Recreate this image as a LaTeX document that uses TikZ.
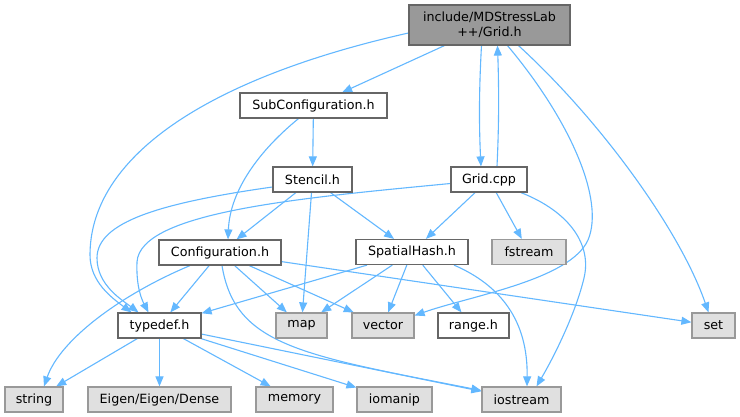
\documentclass[tikz,border=0pt]{standalone}
\usepackage{fontspec}
\setmainfont{DejaVu Sans}
\usetikzlibrary{arrows.meta,backgrounds,calc}
\definecolor{edgec}{HTML}{63B8FF}
\definecolor{bord}{HTML}{666666}
\definecolor{gbord}{HTML}{999999}
\definecolor{gfill}{HTML}{E0E0E0}
\definecolor{rfill}{HTML}{999999}
\begin{document}
\begin{tikzpicture}[x=1pt,y=-1pt,
 box/.style={rectangle, draw=bord, fill=white, line width=1.2pt, inner sep=0pt, minimum height=25pt, font=\fontsize{12.7}{15}\selectfont, text=black},
 sys/.style={box, draw=gbord, fill=gfill},
 root/.style={box, fill=rfill, minimum height=40pt, align=center},
 edge/.style={draw=edgec, line width=1.1pt, -{Triangle[length=10pt,width=8pt]}}]
\useasboundingbox (0,0) rectangle (740,417);

\node[root, minimum width=161pt] (gridh) at (489.5,25) {include/MDStressLab\\++/Grid.h};
\node[box, minimum width=147pt] (subconf) at (313.5,105.5) {SubConfiguration.h};
\node[box, minimum width=79pt] (stencil) at (312.5,179.5) {Stencil.h};
\node[box, minimum width=76pt] (gridcpp) at (489,179.5) {Grid.cpp};
\node[box, minimum width=122pt] (conf) at (220,252.5) {Configuration.h};
\node[box, minimum width=112pt] (spatial) at (412,252) {SpatialHash.h};
\node[sys, minimum width=74pt] (fstream) at (529,252) {fstream};
\node[box, minimum width=83pt] (typedef) at (159.5,325.5) {typedef.h};
\node[sys, minimum width=51pt] (map) at (301.5,325.5) {map};
\node[sys, minimum width=62pt] (vector) at (383,325.5) {vector};
\node[box, minimum width=71pt] (range) at (473.5,325.5) {range.h};
\node[sys, minimum width=43pt] (set) at (713.5,325.5) {set};
\node[sys, minimum width=58pt] (string) at (34,399.5) {string};
\node[sys, minimum width=143pt] (eigen) at (159.5,399.5) {Eigen/Eigen/Dense};
\node[sys, minimum width=77pt] (memory) at (294.5,399.5) {memory};
\node[sys, minimum width=75pt] (iomanip) at (394.5,399.5) {iomanip};
\node[sys, minimum width=79pt] (iostream) at (521.5,399.5) {iostream};

\begin{pgfonlayer}{background}
\fill[white] (0,0) rectangle (740,417);
% Grid.h
\draw[edge] (gridh) -- (subconf);
\draw[edge] ($(gridh.south)+(-8,0)$) .. controls (479,90) and (479,125) .. ($(gridcpp.north)+(-8,0)$);
\draw[edge] ($(gridcpp.north)+(8,0)$) .. controls (499,125) and (499,90) .. ($(gridh.south)+(8,0)$);
\draw[edge] ($(gridh.west)+(0,8)$) .. controls (200,80) and (90,160) .. (90,255) .. controls (90,282) and (112,298) .. ($(typedef.north)+(-28,0)$);
\draw[edge] ($(gridh.south)+(18,0)$) .. controls (570,120) and (605,200) .. (588,240) .. controls (570,280) and (470,296) .. ($(vector.east)+(0,-10)$);
\draw[edge] ($(gridh.south)+(29,0)$) .. controls (600,120) and (680,230) .. ($(set.north)+(-5,0)$);
% Grid.cpp
\draw[edge] (gridcpp) -- (spatial);
\draw[edge] (gridcpp) -- (fstream);
\draw[edge] ($(gridcpp.west)+(0,4)$) .. controls (300,198) and (140,212) .. (137,262) .. controls (136,287) and (142,300) .. ($(typedef.north)+(-11,0)$);
\draw[edge] ($(gridcpp.south)+(32,0)$) .. controls (570,212) and (592,245) .. (584,278) .. controls (576,312) and (555,355) .. ($(iostream.north)+(15,0)$);
% SubConfiguration.h
\draw[edge] (subconf) -- (stencil);
\draw[edge] ($(subconf.south)+(-15,0)$) .. controls (260,150) and (230,190) .. ($(conf.north)+(8,0)$);
% Stencil.h
\draw[edge] (stencil) -- (conf);
\draw[edge] (stencil) -- (spatial);
\draw[edge] (stencil) -- (map);
\draw[edge] ($(stencil.west)+(0,7.5)$) .. controls (160,203) and (97,222) .. (97,258) .. controls (97,285) and (122,300) .. ($(typedef.north)+(-21,0)$);
% Configuration.h
\draw[edge] (conf) -- (typedef);
\draw[edge] (conf) -- (map);
\draw[edge] (conf) -- (vector);
\draw[edge] (conf) -- (set);
\draw[edge] ($(conf.south)+(-30,0)$) .. controls (120,295) and (60,340) .. ($(string.north)+(10,0)$);
\draw[edge] ($(conf.south)+(2,0)$) .. controls (235,345) and (300,355) .. ($(iostream.west)+(0,-9)$);
% SpatialHash.h
\draw[edge] (spatial) -- (typedef);
\draw[edge] (spatial) -- (map);
\draw[edge] (spatial) -- (vector);
\draw[edge] (spatial) -- ($(range.north)+(-12,0)$);
\draw[edge] ($(spatial.south)+(42,0)$) .. controls (500,285) and (528,320) .. ($(iostream.north)+(5.5,0)$);
% typedef.h
\draw[edge] (typedef) -- (string);
\draw[edge] (typedef) -- (eigen);
\draw[edge] (typedef) -- (memory);
\draw[edge] (typedef) -- (iomanip);
\draw[edge] (typedef) -- (iostream);
\end{pgfonlayer}
\end{tikzpicture}
\end{document}
